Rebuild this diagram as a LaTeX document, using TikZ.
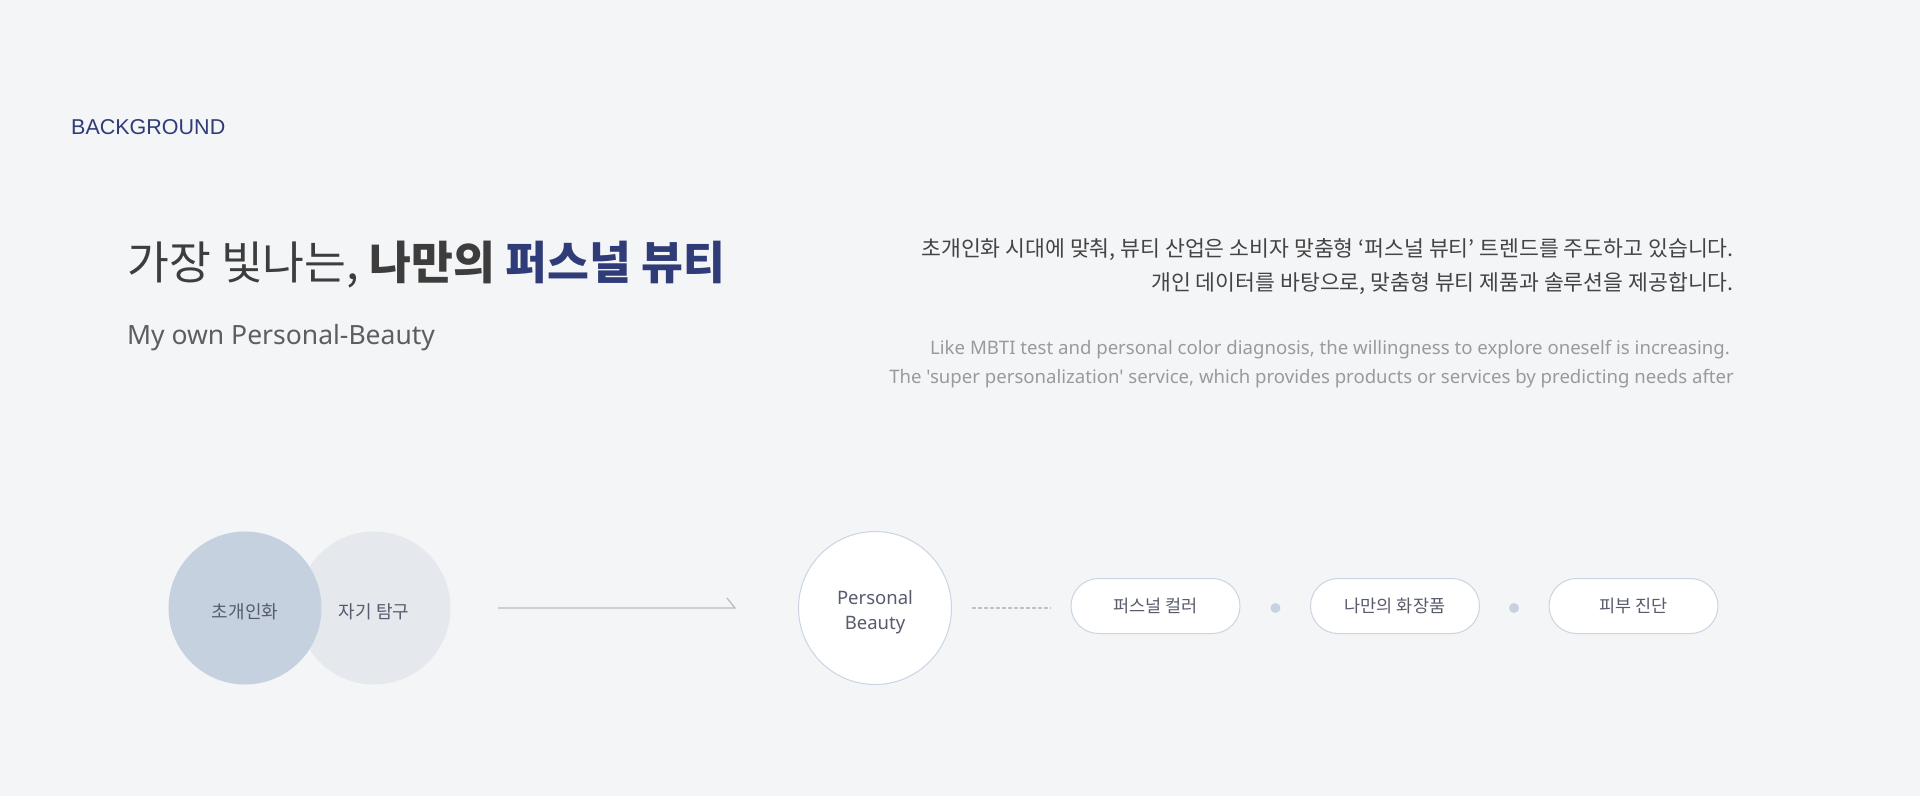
\documentclass[tikz,border=0pt]{standalone}
\usepackage{fontspec}
\setmainfont{Noto Sans}
\newfontfamily\kr{Noto Sans CJK KR}
\newfontfamily\en{Noto Sans}[Ligatures=TeXOff]
\newfontfamily\hv{Liberation Sans}
\definecolor{bgc}{HTML}{F4F5F7}
\definecolor{navy}{HTML}{2F3C78}
\definecolor{titlegray}{HTML}{3D3D3D}
\definecolor{subgray}{HTML}{5E5E5E}
\definecolor{bodygray}{HTML}{444444}
\definecolor{lightgray}{HTML}{9A9A9A}
\definecolor{circA}{HTML}{C5D1DF}
\definecolor{circB}{HTML}{E5E8EC}
\definecolor{labelc}{HTML}{575B6C}
\definecolor{rimc}{HTML}{C9D4E4}
\definecolor{arrowc}{HTML}{B7BBC4}
\definecolor{dashc}{HTML}{BEC2CA}
\definecolor{dotc}{HTML}{C7D1DF}
\tikzset{
  venn/.style={circle, minimum size=153pt, inner sep=0pt, font=\kr\fontsize{18}{22}\selectfont, text=labelc},
  pill/.style={draw=rimc, line width=1pt, fill=white, rounded corners=27.5pt, minimum width=169pt, minimum height=55pt, inner sep=0pt, font=\kr\fontsize{17.5}{22}\selectfont, text=labelc},
  sep/.style={circle, fill=dotc, minimum size=10pt, inner sep=0pt},
}
\begin{document}
\begin{tikzpicture}[x=1pt,y=-1pt]
\fill[bgc] (0,0) rectangle (1920,796);
\useasboundingbox (0,0) rectangle (1920,796);
% header
\node[anchor=base west, inner sep=0pt, text=navy, font=\hv\fontsize{21.5}{26}\selectfont] (bg) at (71,134) {BACKGROUND};
\node[anchor=base west, inner sep=0pt, font=\kr\fontsize{45.5}{54}\selectfont] (title) at (127,279)
  {\textcolor{titlegray}{가장 빛나는,} \textcolor{titlegray}{\bfseries 나만의} \textcolor{navy}{\bfseries 퍼스널 뷰티}};
\node[anchor=base west, inner sep=0pt, text=subgray, font=\fontsize{26.5}{30}\selectfont] (sub) at (127,344) {My own Personal-Beauty};
% right text
\node[anchor=base east, inner sep=0pt, text=bodygray, font=\kr\fontsize{21.6}{24}\selectfont] (k1) at (1734,256)
  {초개인화 시대에 맞춰, 뷰티 산업은 소비자 맞춤형 ‘퍼스널 뷰티’ 트렌드를 주도하고 있습니다.};
\node[anchor=base east, inner sep=0pt, text=bodygray, font=\kr\fontsize{21.6}{24}\selectfont] (k2) at (1734,290)
  {개인 데이터를 바탕으로, 맞춤형 뷰티 제품과 솔루션을 제공합니다.};
\node[anchor=base east, inner sep=0pt, text=lightgray, font=\en\fontsize{18.6}{22}\selectfont] (e1) at (1730,354)
  {Like MBTI test and personal color diagnosis, the willingness to explore oneself is increasing.};
\node[anchor=base east, inner sep=0pt, text=lightgray, font=\en\fontsize{18.6}{22}\selectfont] (e2) at (1734,383.5)
  {The 'super personalization' service, which provides products or services by predicting needs after};
% venn
\node[venn, fill=circB] (self) at (374,608) {};
\node[venn, fill=circA, text depth=-4pt] (hyper) at (245,608) {};
\node[font=\kr\fontsize{18}{22}\selectfont, text=labelc] (hyperlabel) at (245,612) {초개인화};
\node[font=\kr\fontsize{18}{22}\selectfont, text=labelc] (selflabel) at (374,612) {자기 탐구};
% arrow
\coordinate (a0) at ([xshift=47.5pt]self.east);
\node[venn, draw=rimc, line width=1pt, fill=white] (pb) at (875,608) {};
\node[font=\fontsize{18.5}{25}\selectfont, text=labelc, align=center] (pblabel) at (875,612) {Personal\\Beauty};
\coordinate (a1) at ([xshift=-63pt]pb.west);
\draw[arrowc, line width=1.3pt] (a0) -- (a1) -- ++(-8,-10);
% pills
\node[pill] (p1) at (1155.5,606) {퍼스널 컬러};
\node[pill] (p2) at (1395,606) {나만의 화장품};
\node[pill] (p3) at (1633.5,606) {피부 진단};
\coordinate (q0) at ([xshift=20pt]pb.east);
\coordinate (q1) at ([xshift=-20pt]p1.west |- pb.east);
\draw[dashc, line width=1.4pt, dash pattern=on 3.5pt off 2.5pt] (q0) -- (q1);
\node[sep] (d1) at (1275.5,608) {};
\node[sep] (d2) at (1514,608) {};
\end{tikzpicture}
\end{document}
